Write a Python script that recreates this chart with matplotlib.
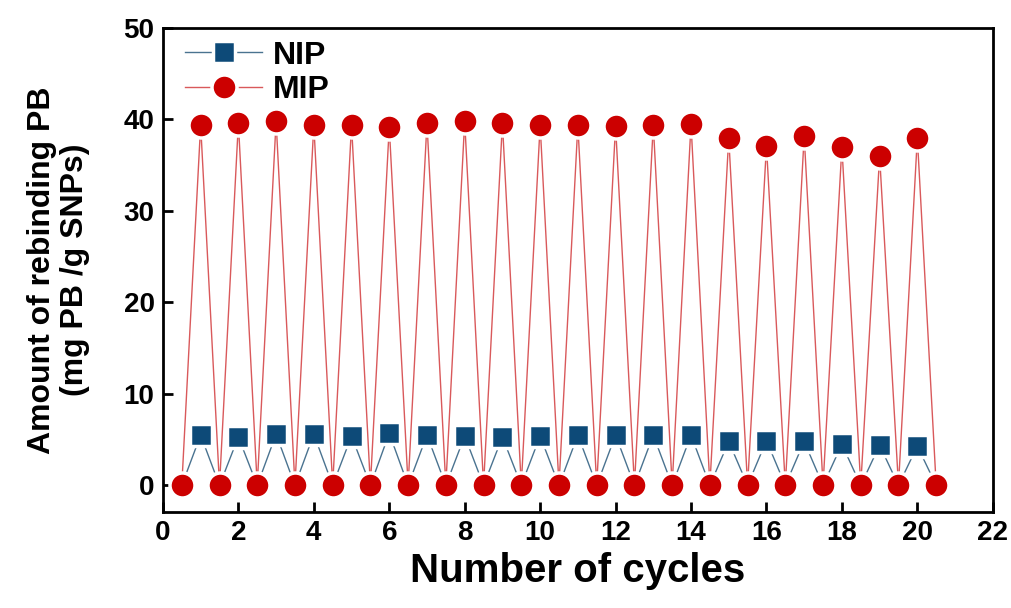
import numpy as np
import matplotlib.pyplot as plt

plt.rcParams['font.family'] = ['Liberation Sans', 'DejaVu Sans']
plt.rcParams['font.weight'] = 'bold'

# data: washing steps (zero) alternate with rebinding steps
cycles = np.arange(0.5, 21.0, 0.5)
mip_peaks = [39.4, 39.6, 39.8, 39.4, 39.4, 39.2, 39.6, 39.8, 39.6, 39.4,
             39.4, 39.3, 39.4, 39.5, 38.0, 37.1, 38.2, 37.0, 36.0, 38.0]
nip_peaks = [5.5, 5.3, 5.6, 5.6, 5.4, 5.7, 5.5, 5.4, 5.3, 5.4,
             5.5, 5.5, 5.5, 5.5, 4.8, 4.9, 4.8, 4.5, 4.4, 4.3]

mip = np.zeros(len(cycles))
nip = np.zeros(len(cycles))
mip[1::2] = mip_peaks
nip[1::2] = nip_peaks

fig = plt.figure(figsize=(10.12, 6.08), dpi=100)
ax = fig.add_axes([0.161, 0.158, 0.820, 0.796])

ax.plot(cycles, nip, color='#4a7390', lw=1.0, marker='s', ms=16,
        mfc='#0d4a78', mec='white', mew=2.5, label='NIP')
ax.plot(cycles, mip, color='#d9595b', lw=1.0, marker='o', ms=18,
        mfc='#cc0000', mec='white', mew=2.5, label='MIP')

ax.set_xlim(0, 22)
ax.set_ylim(-2.9, 50)
ax.set_xticks(np.arange(0, 23, 2))
ax.set_yticks(np.arange(0, 51, 10))
ax.tick_params(direction='in', length=7, width=2, labelsize=20, pad=6)
for s in ax.spines.values():
    s.set_linewidth(2)

ax.set_xlabel('Number of cycles', fontsize=29, fontweight='bold', labelpad=4)
ax.set_ylabel('Amount of rebinding PB\n(mg PB /g SNPs)', fontsize=23,
              fontweight='bold', labelpad=24, linespacing=1.15)

ax.legend(loc='upper left', frameon=False, fontsize=23, handlelength=2.4,
          borderaxespad=0.3, labelspacing=0.15, handletextpad=0.35,
          bbox_to_anchor=(0.0, 1.02))

fig.savefig('out.png', dpi=100)
